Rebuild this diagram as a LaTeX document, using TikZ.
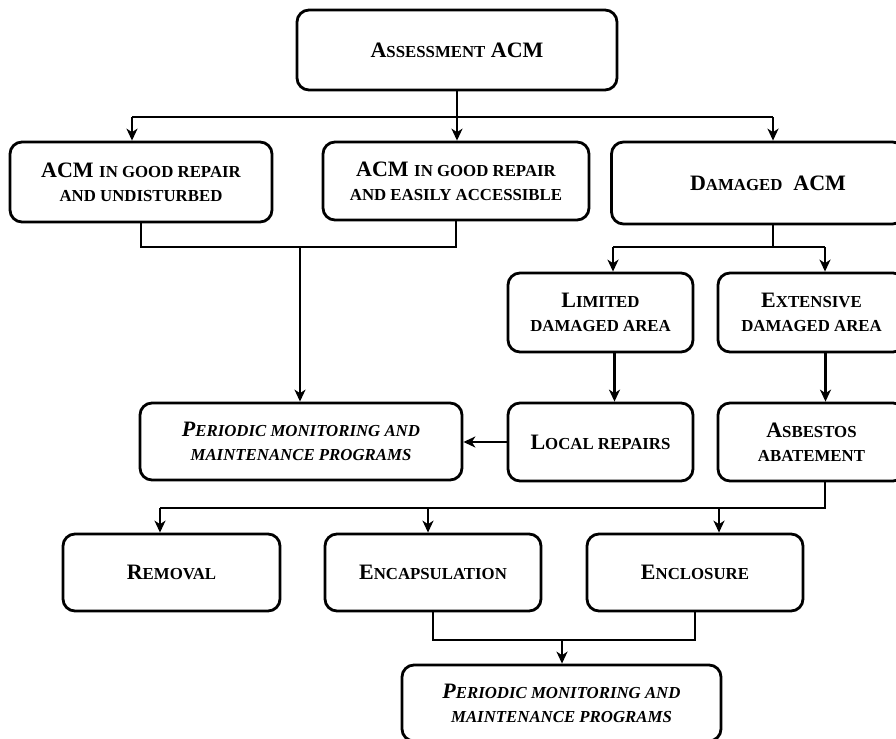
\documentclass[tikz,border=0pt]{standalone}
\usepackage{fontspec}
\setmainfont{Liberation Serif}
\usetikzlibrary{arrows.meta}
\newcommand{\sca}[1]{{\fontsize{8.4}{12}\selectfont #1}}

\begin{document}
\begin{tikzpicture}[x=0.5pt,y=-0.5pt,
	box/.style={draw,line width=1.4pt,rounded corners=6pt,align=center,inner sep=0pt,
		font=\fontsize{11}{12}\selectfont\bfseries},
	lin/.style={line width=1.4pt},
	arr/.style={line width=1.4pt,-{Stealth[length=6pt,width=5.5pt,inset=1.8pt]}}]
	\useasboundingbox (0,0) rectangle (896,739);
	\clip (0,0) rectangle (896,739);
	% boxes
	\node[box,minimum width=160pt,minimum height=40pt] (assess) at (457,50) {A\sca{SSESSMENT} ACM};
	\node[box,minimum width=131pt,minimum height=40pt] (good1) at (141,182) {ACM \sca{IN GOOD REPAIR}\\\sca{AND UNDISTURBED}};
	\node[box,minimum width=133pt,minimum height=39pt] (good2) at (456,181) {ACM \sca{IN GOOD REPAIR}\\\sca{AND EASILY ACCESSIBLE}};
	\node[box,minimum width=146.5pt,minimum height=41pt] (damaged) at (758,183) {\hspace*{10pt}D\sca{AMAGED}\ \ ACM};
	\node[box,minimum width=92.5pt,minimum height=39.5pt] (limited) at (600.5,312.5) {L\sca{IMITED}\\\sca{DAMAGED AREA}};
	\node[box,minimum width=93.5pt,minimum height=39.5pt] (extensive) at (811.5,312.5) {E\sca{XTENSIVE}\\\sca{DAMAGED AREA}};
	\node[box,minimum width=92.5pt,minimum height=39pt] (local) at (600.5,442) {L\sca{OCAL REPAIRS}};
	\node[box,minimum width=93.5pt,minimum height=39pt] (abate) at (811.5,442) {A\sca{SBESTOS}\\\sca{ABATEMENT}};
	\node[box,minimum width=161pt,minimum height=38.5pt] (period1) at (301,441.5) {\itshape P\sca{ERIODIC MONITORING AND}\\\itshape\sca{MAINTENANCE PROGRAMS}};
	\node[box,minimum width=108.5pt,minimum height=38.5pt] (removal) at (171.5,572.5) {R\sca{EMOVAL}};
	\node[box,minimum width=108pt,minimum height=38.5pt] (encaps) at (433,572.5) {E\sca{NCAPSULATION}};
	\node[box,minimum width=108pt,minimum height=38.5pt] (enclos) at (695,572.5) {E\sca{NCLOSURE}};
	\node[box,minimum width=159.5pt,minimum height=38pt] (period2) at (561.5,703) {\itshape P\sca{ERIODIC MONITORING AND}\\\itshape\sca{MAINTENANCE PROGRAMS}};
	% junction points
	\coordinate (s1) at (457,117);
	\coordinate (t1) at (132,117);
	\coordinate (t3) at (773,117);
	\coordinate (m1) at (300,247);
	\coordinate (d1) at (773,247);
	\coordinate (d2) at (613,247);
	\coordinate (d3) at (825,247);
	\coordinate (a1) at (825,508);
	\coordinate (r1) at (160,508);
	\coordinate (r2) at (428,508);
	\coordinate (r3) at (719,508);
	\coordinate (b1) at (562,640);
	% top split
	\draw[lin] (assess.south) -- (s1);
	\draw[lin] (t1) -- (t3);
	\draw[arr] (t1) -- (t1 |- good1.north);
	\draw[arr] (s1) -- (s1 |- good2.north);
	\draw[arr] (t3) -- (t3 |- damaged.north);
	% good repair to monitoring
	\draw[lin] (good1.south) |- (good2.south |- m1) -- (good2.south);
	\draw[arr] (m1) -- (m1 |- period1.north);
	% damaged
	\draw[lin] (d1 |- damaged.south) -- (d1);
	\draw[lin] (d2) -- (d3);
	\draw[arr] (d2) -- (d2 |- limited.north);
	\draw[arr] (d3) -- (d3 |- extensive.north);
	\draw[arr] ([xshift=7pt]limited.south) -- ([xshift=7pt]local.north);
	\draw[arr] ([xshift=7pt]extensive.south) -- ([xshift=7pt]abate.north);
	\draw[arr] (local.west) -- (local.west -| period1.east);
	% abatement split
	\draw[lin] (a1 |- abate.south) -- (a1) -- (r1);
	\draw[arr] (r1) -- (r1 |- removal.north);
	\draw[arr] (r2) -- (r2 |- encaps.north);
	\draw[arr] (r3) -- (r3 |- enclos.north);
	% to monitoring
	\draw[lin] (encaps.south) |- (enclos.south |- b1) -- (enclos.south);
	\draw[arr] (b1) -- (b1 |- period2.north);
\end{tikzpicture}
\end{document}
